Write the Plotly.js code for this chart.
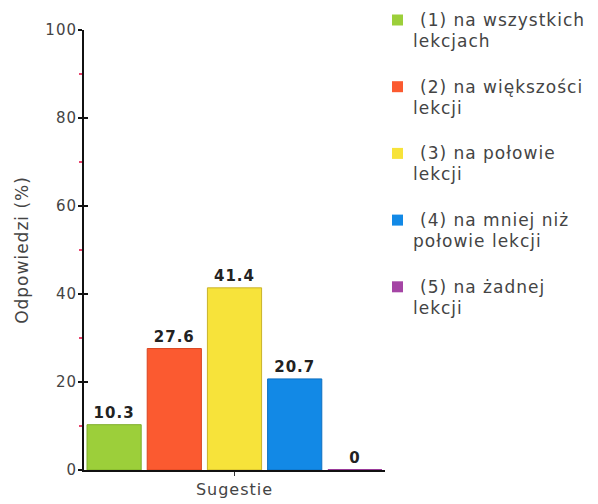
<!DOCTYPE html>
<html><head><meta charset="utf-8">
<script src="https://cdn.plot.ly/plotly-3.0.1.min.js"></script>
<style>html,body{margin:0;padding:0;background:#fff}svg text{letter-spacing:1px}</style>
</head><body>
<div id="chart" style="width:598px;height:504px"></div>
<script>
const categories = ['Sugestie'];
const seriesNames = [
  '(1) na wszystkich<br>lekcjach',
  '(2) na większości<br>lekcji',
  '(3) na połowie<br>lekcji',
  '(4) na mniej niż<br>połowie lekcji',
  '(5) na żadnej<br>lekcji'
];
const values = [10.3, 27.6, 41.4, 20.7, 0];
const yTicks = [0, 20, 40, 60, 80, 100];
const yMinorTicks = [10, 30, 50, 70, 90];

const fillColors = ['#9ccf3a', '#fb5a30', '#f7e33a', '#1289e6', '#a545a5'];
const lineColors = ['#7fae28', '#d94520', '#c9b22a', '#0d6fc0', '#9a3a9a'];

// plot area in pixels (for placing the hand-made legend)
const W = 598, H = 504, M = {l: 84, r: 213, t: 30, b: 34};
const pw = W - M.l - M.r, ph = H - M.t - M.b;
const px = x => (x - M.l) / pw;
const py = y => (H - M.b - y) / ph;

const traces = values.map((v, i) => ({
  type: 'bar',
  x: categories,
  y: [v],
  name: seriesNames[i].replace('<br>', ' '),
  marker: {color: fillColors[i], line: {color: lineColors[i], width: v === 0 ? 2 : 1}},
  text: [String(v)],
  texttemplate: '%{text}',
  textposition: 'outside',
  cliponaxis: false,
  textfont: {family: 'DejaVu Sans', size: 15, color: '#222', weight: 'bold'},
  hoverinfo: 'none',
  showlegend: false
}));
traces.push({type: 'scatter', x: categories, y: [null], yaxis: 'y2', showlegend: false, hoverinfo: 'none'});

const annotations = [];
const shapes = [];
seriesNames.forEach((name, i) => {
  const cy = 20 + i * 66.7;
  shapes.push({type: 'rect', xref: 'paper', yref: 'paper',
    x0: px(392), x1: px(403), y0: py(cy - 5.5), y1: py(cy + 5.5),
    fillcolor: fillColors[i], line: {width: 0}});
  name.split('<br>').forEach((line, j) => {
    annotations.push({xref: 'paper', yref: 'paper', x: px(j === 0 ? 418 : 411), y: py(cy + j * 21),
      xanchor: 'left', yanchor: 'middle', showarrow: false, text: line, align: 'left',
      font: {family: 'DejaVu Sans', size: 17, color: '#444'}});
  });
});

const layout = {
  width: W, height: H,
  margin: M,
  paper_bgcolor: '#fff', plot_bgcolor: '#fff',
  font: {family: 'DejaVu Sans', size: 15, color: '#444'},
  barmode: 'group', bargap: 0, bargroupgap: 0.1,
  showlegend: false,
  annotations: annotations,
  shapes: shapes,
  xaxis: {type: 'category', range: [-0.5, 0.5], showline: true, linecolor: '#111', linewidth: 2,
          layer: 'below traces',
          ticks: 'outside', ticklen: 4, tickcolor: '#333', tickfont: {size: 16, color: '#444'},
          showgrid: false, zeroline: false, fixedrange: true},
  yaxis: {range: [0, 100], tickvals: yTicks, showline: true, linecolor: '#111', linewidth: 2,
          ticks: 'outside', ticklen: 4, tickcolor: '#111', tickwidth: 2, tickfont: {size: 15, color: '#444'},
          ticklabelstandoff: -2,
          minor: {tickvals: yMinorTicks, ticks: 'outside', ticklen: 3, tickcolor: '#e8456e', tickwidth: 1.5},
          showgrid: false, zeroline: false,
          title: {text: 'Odpowiedzi (%)', font: {size: 17, color: '#444'}, standoff: 12}},
  yaxis2: {overlaying: 'y', side: 'left', range: [0, 100], tickvals: yTicks, ticks: 'inside', ticklen: 4,
           tickcolor: '#111', tickwidth: 2, showticklabels: false, showgrid: false, zeroline: false,
           showline: false}
};
Plotly.newPlot('chart', traces, layout, {staticPlot: true});
</script>
</body></html>
